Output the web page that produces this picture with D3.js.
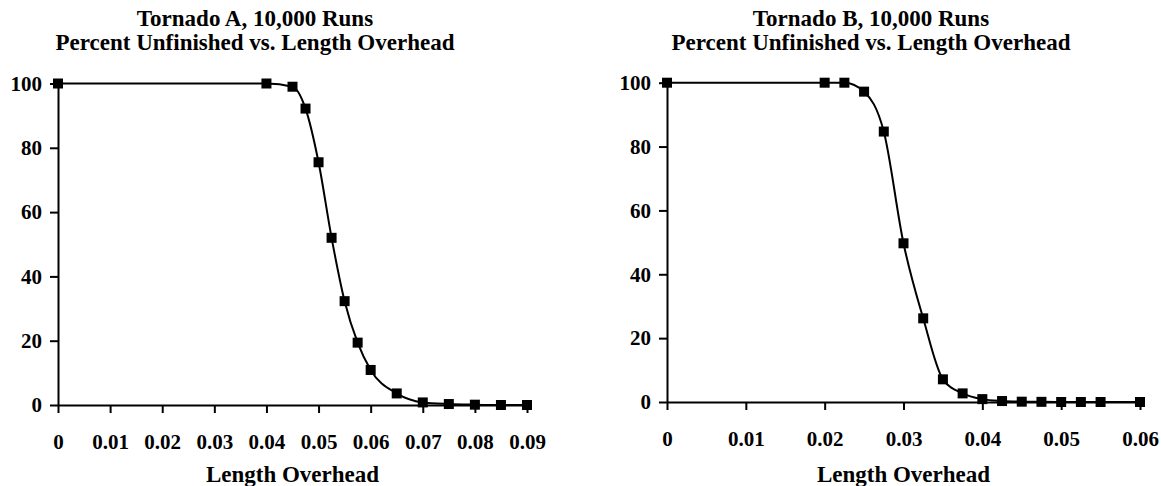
<!DOCTYPE html>
<html>
<head>
<meta charset="utf-8">
<script src="https://cdn.jsdelivr.net/npm/d3@7"></script>
<style>
    body { margin: 0; background: #fff; }
    text { font-family: "Liberation Serif", "Times New Roman", serif; font-weight: bold; fill: #000; }
</style>
</head>
<body>
<svg width="1161" height="486"></svg>
<script>
// Tornado A
const xA = [0, 0.04, 0.045, 0.0475, 0.05, 0.0525, 0.055, 0.0575, 0.06, 0.065, 0.07, 0.075, 0.08, 0.085, 0.09];
const yA = [100, 100, 99, 92.2, 75.5, 52, 32.3, 19.4, 10.9, 3.6, 0.8, 0.3, 0.1, 0, 0];
const xTicksA = [0, 0.01, 0.02, 0.03, 0.04, 0.05, 0.06, 0.07, 0.08, 0.09];

// Tornado B
const xB = [0, 0.02, 0.0225, 0.025, 0.0275, 0.03, 0.0325, 0.035, 0.0375, 0.04, 0.0425, 0.045, 0.0475, 0.05, 0.0525, 0.055, 0.06];
const yB = [100, 100, 100, 97.2, 84.7, 49.7, 26.2, 7.1, 2.7, 0.9, 0.3, 0.1, 0.05, 0, 0, 0, 0];
const xTicksB = [0, 0.01, 0.02, 0.03, 0.04, 0.05, 0.06];

const yTicks = [0, 20, 40, 60, 80, 100];

const svg = d3.select("svg");

function drawChart(opts) {
    const g = svg.append("g");
    const x = d3.scaleLinear().domain([0, opts.xMax]).range([opts.left, opts.right]);
    const y = d3.scaleLinear().domain([0, 100]).range([opts.bottom, opts.top]);

    // title, two lines
    const title = g.append("text")
        .attr("x", opts.titleX)
        .attr("text-anchor", "middle")
        .style("font-size", "23px");
    title.append("tspan").attr("x", opts.titleX).attr("y", 26).text(opts.title1);
    title.append("tspan").attr("x", opts.titleX).attr("y", 50).text("Percent Unfinished vs. Length Overhead");

    // y axis
    const yAxis = g.append("g")
        .attr("transform", `translate(${opts.left},0)`)
        .call(d3.axisLeft(y).tickValues(yTicks).tickSize(8).tickPadding(8).tickSizeOuter(0));
    yAxis.selectAll("text").style("font-size", "21px");

    // x axis
    const xAxis = g.append("g")
        .attr("transform", `translate(0,${opts.bottom})`)
        .call(d3.axisBottom(x).tickValues(opts.xTicks).tickSize(8).tickPadding(21).tickSizeOuter(0)
            .tickFormat(d => d === 0 ? "0" : d3.format(".2f")(d)));
    xAxis.selectAll("text").style("font-size", "21px");

    svg.selectAll(".domain, .tick line").attr("stroke", "#000").attr("stroke-width", 2);

    g.append("text")
        .attr("x", (opts.left + opts.right) / 2)
        .attr("y", 482)
        .attr("text-anchor", "middle")
        .style("font-size", "23px")
        .text("Length Overhead");

    const pts = opts.xs.map((v, i) => [v, opts.ys[i]]);

    const line = d3.line()
        .x(d => x(d[0]))
        .y(d => y(d[1]))
        .curve(d3.curveMonotoneX);

    g.append("path")
        .datum(pts)
        .attr("fill", "none")
        .attr("stroke", "#000")
        .attr("stroke-width", 2)
        .attr("d", line);

    // square markers
    g.selectAll(".mk")
        .data(pts)
        .enter().append("rect")
        .attr("class", "mk")
        .attr("x", d => x(d[0]) - 5)
        .attr("y", d => y(d[1]) - 5)
        .attr("width", 10)
        .attr("height", 10)
        .attr("fill", "#000");
}

drawChart({
    xs: xA, ys: yA, xTicks: xTicksA, xMax: 0.09,
    left: 58, right: 527, top: 83.5, bottom: 405,
    titleX: 255, title1: "Tornado A, 10,000 Runs"
});

drawChart({
    xs: xB, ys: yB, xTicks: xTicksB, xMax: 0.06,
    left: 667, right: 1140, top: 82.7, bottom: 402,
    titleX: 871, title1: "Tornado B, 10,000 Runs"
});
</script>
</body>
</html>
